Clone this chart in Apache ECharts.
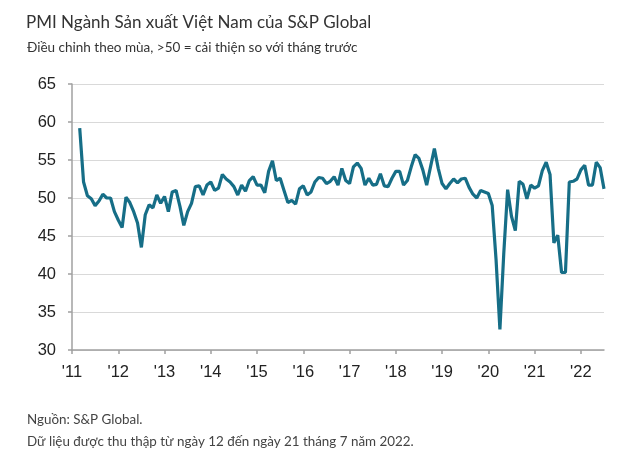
<!DOCTYPE html>
<html>
<head>
<meta charset="utf-8">
<script src="https://cdn.jsdelivr.net/npm/echarts@6/dist/echarts.min.js"></script>
<style>
html,body{margin:0;padding:0;background:#fff;}
#chart{width:630px;height:459px;}
</style>
</head>
<body>
<div id="chart"></div>
<script>
const titleText = 'PMI Ngành Sản xuất Việt Nam của S&P Global';
const subtitleText = 'Điều chỉnh theo mùa, >50 = cải thiện so với tháng trước';
const sourceText = 'Nguồn: S&P Global.';
const noteText = 'Dữ liệu được thu thập từ ngày 12 đến ngày 21 tháng 7 năm 2022.';

const years = ['2011','2012','2013','2014','2015','2016','2017','2018','2019','2020','2021','2022'];
const yearLabels = ["'11","'12","'13","'14","'15","'16","'17","'18","'19","'20","'21","'22"];
const monthsInLastYear = 7;

const yTicks = [30, 35, 40, 45, 50, 55, 60, 65];

const pmi2011 = [null, null, 59.2, 52.1, 50.3, 49.9, 49.0, 49.6, 50.5, 50.0, 50.0, 48.2];
const pmi2012 = [47.1, 46.1, 50.1, 49.4, 48.2, 46.7, 43.5, 47.8, 49.1, 48.7, 50.4, 49.3];
const pmi2013 = [50.2, 48.2, 50.8, 51.0, 48.9, 46.4, 48.2, 49.3, 51.5, 51.6, 50.4, 51.7];
const pmi2014 = [52.1, 51.0, 51.3, 53.1, 52.5, 52.1, 51.5, 50.4, 51.7, 50.9, 52.3, 52.8];
const pmi2015 = [51.7, 51.7, 50.7, 53.5, 54.9, 52.3, 52.6, 51.0, 49.4, 49.7, 49.2, 51.2];
const pmi2016 = [51.6, 50.4, 50.8, 52.1, 52.7, 52.6, 51.9, 52.2, 52.8, 51.7, 53.9, 52.3];
const pmi2017 = [51.9, 54.1, 54.6, 53.9, 51.7, 52.6, 51.7, 51.8, 53.2, 51.6, 51.5, 52.6];
const pmi2018 = [53.5, 53.5, 51.7, 52.3, 54.1, 55.7, 55.2, 53.7, 51.7, 54.1, 56.5, 53.9];
const pmi2019 = [51.9, 51.2, 51.9, 52.5, 52.0, 52.5, 52.6, 51.4, 50.5, 50.0, 51.0, 50.8];
const pmi2020 = [50.6, 49.0, 41.9, 32.7, 42.7, 51.1, 47.6, 45.7, 52.2, 51.8, 49.9, 51.7];
const pmi2021 = [51.3, 51.6, 53.6, 54.7, 53.1, 44.1, 45.1, 40.2, 40.2, 52.1, 52.2, 52.5];
const pmi2022 = [53.7, 54.3, 51.7, 51.7, 54.7, 54.0, 51.2];

const pmiValues = [].concat(pmi2011, pmi2012, pmi2013, pmi2014, pmi2015, pmi2016,
  pmi2017, pmi2018, pmi2019, pmi2020, pmi2021, pmi2022).map(v => v === null ? '-' : v);

const months = [];
years.forEach((y, i) => {
  const n = (i === years.length - 1) ? monthsInLastYear : 12;
  for (let m = 1; m <= n; m++) months.push(y + '-' + (m < 10 ? '0' + m : m));
});

const isJan = (idx, val) => val.slice(5) === '01';

const chart = echarts.init(document.getElementById('chart'), null, {renderer: 'canvas'});
chart.setOption({
  animation: false,
  backgroundColor: '#ffffff',
  title: [
    {text: titleText, left: 21, top: 9,
     textStyle: {fontFamily: 'Lato', fontWeight: 'normal', fontSize: 17, color: '#333333'}},
    {text: subtitleText, left: 22, top: 36,
     textStyle: {fontFamily: 'Lato', fontWeight: 'normal', fontSize: 13.5, color: '#333333'}},
    {text: sourceText, left: 22, bottom: 28,
     textStyle: {fontFamily: 'Lato', fontWeight: 'normal', fontSize: 13.4, color: '#444444'}},
    {text: noteText, left: 22, bottom: 6,
     textStyle: {fontFamily: 'Lato', fontWeight: 'normal', fontSize: 13.4, color: '#444444'}}
  ],
  grid: {left: 72, right: 26, top: 84, bottom: 109, containLabel: false},
  xAxis: {
    type: 'category',
    data: months,
    boundaryGap: false,
    axisLine: {show: true, lineStyle: {color: '#a0a0a0', width: 1.5}},
    axisTick: {show: true, interval: isJan, length: 4, lineStyle: {color: '#a0a0a0', width: 1.5}},
    axisLabel: {
      interval: isJan, margin: 14, fontFamily: 'Liberation Sans', fontSize: 16.5, color: '#222222',
      formatter: (val) => yearLabels[years.indexOf(val.slice(0, 4))]
    },
    splitLine: {show: false}
  },
  yAxis: {
    type: 'value',
    min: yTicks[0], max: yTicks[yTicks.length - 1], interval: 5,
    axisLine: {show: true, lineStyle: {color: '#a0a0a0', width: 1.5}},
    axisTick: {show: true, length: 4, lineStyle: {color: '#a0a0a0', width: 1.5}},
    axisLabel: {margin: 16, fontFamily: 'Liberation Sans', fontSize: 16.5, color: '#222222'},
    splitLine: {show: true, lineStyle: {color: '#d9d9d9', width: 1.2}}
  },
  series: [{
    type: 'line',
    data: pmiValues,
    showSymbol: false,
    connectNulls: false,
    lineStyle: {color: '#166e87', width: 3.2},
    itemStyle: {color: '#166e87'}
  }]
});
</script>
</body>
</html>
